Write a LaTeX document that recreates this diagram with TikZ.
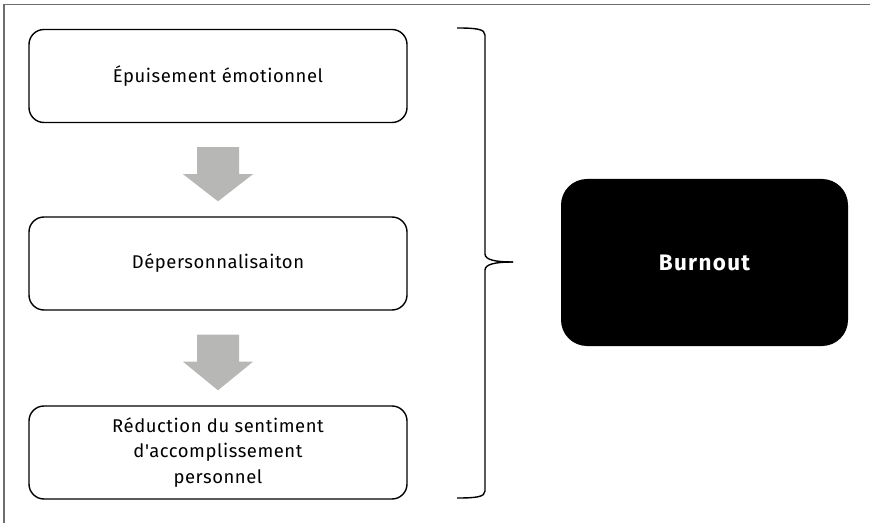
\documentclass[tikz,border=0pt]{standalone}
\usepackage{fontspec}
\setmainfont{Fira Sans}[Ligatures=TeXOff]
\newfontfamily\stagefont{Fira Sans}[Ligatures=TeXOff, LetterSpace=3]
\newfontfamily\resultfont{Fira Sans}[Ligatures=TeXOff, LetterSpace=6]
\usepackage{xcolor}
\usetikzlibrary{positioning, calc}

\definecolor{framegray}{RGB}{110,110,110}
\definecolor{arrowgray}{RGB}{183,183,181}

\tikzset{
  stage/.style={draw, line width=1.4bp, rounded corners=15bp, minimum width=378bp,
                minimum height=93bp, align=center, font=\stagefont\fontsize{18.5}{25.5}\selectfont},
  result/.style={fill=black, rounded corners=26bp, minimum width=287bp, minimum height=167bp,
                 text=white, font=\resultfont\fontsize{22.5}{24}\selectfont\bfseries}
}

\begin{document}
\begin{tikzpicture}[x=1bp, y=-1bp]
\useasboundingbox (0,0) rectangle (870,523);
% cadre
\draw[framegray, line width=1.5bp] (4,523) -- (4,4.5) -- (870,4.5);

% les trois dimensions
\node[stage] (e1) at (218,76) {Épuisement émotionnel};
\node[stage] (e2) at (218,263.5) {Dépersonnalisaiton};
\node[stage] (e3) at (218,452.5) {Réduction du sentiment\\d'accomplissement\\personnel};

% flèches grises
\foreach \a/\b in {e1/e2, e2/e3}{
  \fill[arrowgray] ($(\a.south)+(-21,24)$) -- ++(42,0) -- ++(0,27) -- ++(14,0)
    -- ($(\b.north)+(0,-15)$) -- ($(\a.south)+(-35,51)$) -- ++(14,0) -- cycle;
}

% accolade
\coordinate (bt) at (457,28);
\coordinate (bm) at (513,262);
\coordinate (bb) at (457,498);
\draw[line width=1.4bp] (bt) .. controls (476,28) and (485,29) .. (485,35) -- (485,254)
  .. controls (485,260) and (496,262) .. (bm);
\draw[line width=1.4bp] (bb) .. controls (476,498) and (485,497) .. (485,491) -- (485,270)
  .. controls (485,264) and (496,262) .. (bm);

\node[result] (burn) at (704.5,262.5) {Burnout};
\end{tikzpicture}
\end{document}
